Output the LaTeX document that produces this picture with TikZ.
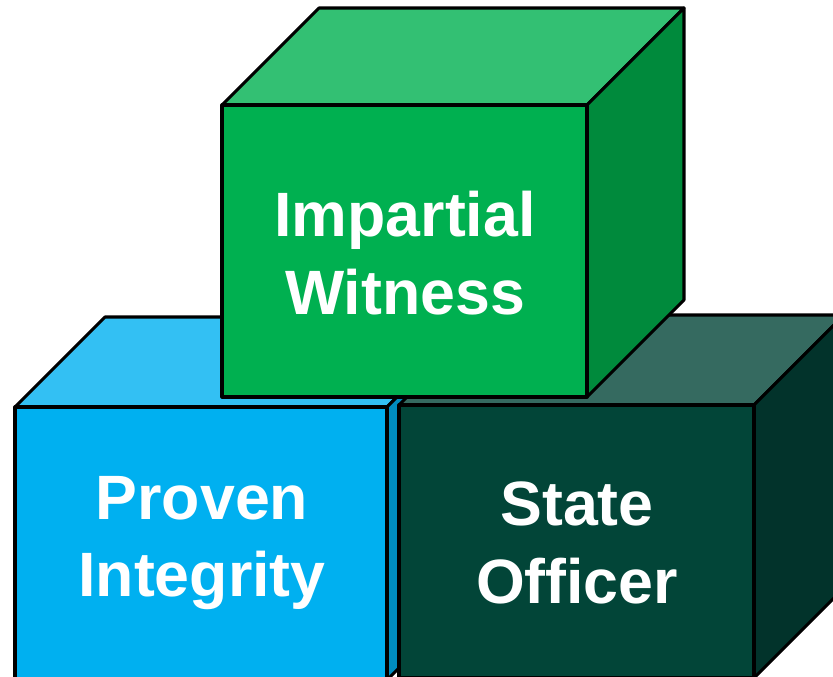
\documentclass[tikz,border=0pt]{standalone}
\usepackage{fontspec}
\setmainfont{Liberation Sans}
\definecolor{blueFront}{HTML}{00B0F0}
\definecolor{blueTop}{HTML}{33C0F3}
\definecolor{blueSide}{HTML}{008CC0}
\definecolor{greenFront}{HTML}{00B050}
\definecolor{greenTop}{HTML}{33C073}
\definecolor{greenSide}{HTML}{008A3C}
\definecolor{darkFront}{HTML}{024538}
\definecolor{darkTop}{HTML}{356A60}
\definecolor{darkSide}{HTML}{02332B}
\begin{document}
\begin{tikzpicture}[x=0.75pt, y=-0.75pt, face/.style={draw=black,line width=2.3pt,line join=round}, word/.style={text=white,font=\fontsize{47}{58}\selectfont\bfseries,align=center}]
  \useasboundingbox (0,0) rectangle (833,677);
  \clip (0,0) rectangle (833,677);

  \filldraw[face,fill=blueTop]   (15,407) -- (105,317) -- (477,317) -- (387,407) -- cycle;
  \filldraw[face,fill=blueSide]  (387,407) -- (477,317) -- (477,590) -- (387,680) -- cycle;
  \filldraw[face,fill=blueFront] (15,407) rectangle (387,680);
  \node[word] (pi) at (202,543) {Proven\\Integrity};

  \filldraw[face,fill=darkTop]   (399,405) -- (489,315) -- (844,315) -- (754,405) -- cycle;
  \filldraw[face,fill=darkSide]  (754,405) -- (844,315) -- (844,588) -- (754,678) -- cycle;
  \filldraw[face,fill=darkFront] (399,405) rectangle (754,678);
  \node[word] (so) at (577,543) {State\\Officer};

  \filldraw[face,fill=greenTop]   (222,105) -- (319,8) -- (684,8) -- (587,105) -- cycle;
  \filldraw[face,fill=greenSide]  (587,105) -- (684,8) -- (684,300) -- (587,397) -- cycle;
  \filldraw[face,fill=greenFront] (222,105) rectangle (587,397);
  \node[word] (iw) at (405,253) {Impartial\\Witness};
\end{tikzpicture}
\end{document}
